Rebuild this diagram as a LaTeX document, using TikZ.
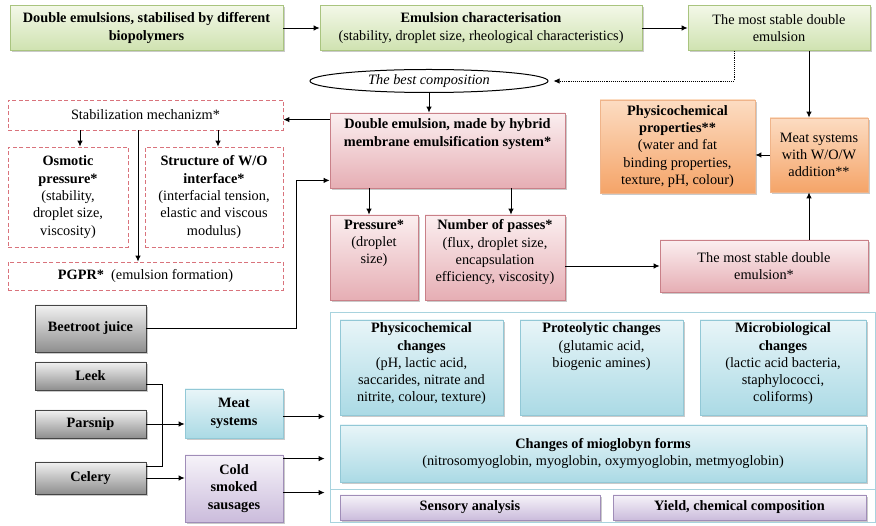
\documentclass[tikz,border=0pt]{standalone}
\usepackage{fontspec}
\setmainfont{Liberation Serif}
\usetikzlibrary{arrows.meta,shapes.geometric,shadows}
\definecolor{grT}{HTML}{F3F8E8}\definecolor{grB}{HTML}{CFE2B0}\definecolor{grD}{HTML}{A9C47F}
\definecolor{pkT}{HTML}{FBEFF0}\definecolor{pkB}{HTML}{E6AEB4}\definecolor{pkD}{HTML}{C98088}
\definecolor{orT}{HTML}{FCDCC2}\definecolor{orB}{HTML}{F5A468}\definecolor{orD}{HTML}{EFB48A}
\definecolor{gyT}{HTML}{F2F2F2}\definecolor{gyB}{HTML}{8E8E8E}\definecolor{gyD}{HTML}{454545}
\definecolor{cyT}{HTML}{E8F5F8}\definecolor{cyB}{HTML}{ABDAE5}\definecolor{cyD}{HTML}{92C8D6}
\definecolor{puT}{HTML}{F6F3F9}\definecolor{puB}{HTML}{CBBCDC}\definecolor{puD}{HTML}{A08DB8}
\definecolor{rdD}{HTML}{D9737C}
\tikzset{
  every node/.style={font=\fontsize{14.3}{17.3}\selectfont, align=center, inner sep=0pt},
  shd/.style={drop shadow={shadow xshift=1.6pt, shadow yshift=-1.8pt, opacity=0.35, fill=black!60}},
  gbox/.style={shd, draw=grD, line width=0.8pt, top color=grT, bottom color=grB},
  pbox/.style={shd, draw=pkD, line width=0.8pt, top color=pkT, bottom color=pkB},
  obox/.style={shd, draw=orD, line width=0.8pt, top color=orT, bottom color=orB},
  gybox/.style={shd, draw=gyD, line width=0.8pt, top color=gyT, bottom color=gyB},
  cbox/.style={shd, draw=cyD, line width=0.8pt, top color=cyT, bottom color=cyB},
  ubox/.style={shd, draw=puD, line width=0.8pt, top color=puT, bottom color=puB},
  rbox/.style={draw=rdD, line width=0.8pt, dash pattern=on 4pt off 2.5pt, fill=white},
  arr/.style={line width=0.9pt, -{Latex[length=6pt,width=5.5pt]}},
  ln/.style={line width=0.9pt},
  txt/.style={anchor=north}
}
\begin{document}
\begin{tikzpicture}[x=1pt,y=-1pt]
\useasboundingbox (0,0) rectangle (876,526);
% top row
\node[gbox, minimum width=273pt, minimum height=45pt] (A) at (146.5,28) {\textbf{Double emulsions, stabilised by different}\\\textbf{biopolymers}};
\node[gbox, minimum width=322pt, minimum height=45pt] (B) at (481,28) {\textbf{Emulsion characterisation}\\(stability, droplet size, rheological characteristics)};
\node[gbox, minimum width=182pt, minimum height=45pt] (C) at (779,28) {The most stable double\\emulsion};
\node[ellipse, draw, line width=1pt, fill=white, minimum width=238pt, minimum height=23pt] (ell) at (429,81) {\textit{The best composition}};
% left dashed group
\node[rbox, minimum width=275pt, minimum height=30pt] (Stab) at (145.5,115) {Stabilization mechanizm*};
\node[rbox, minimum width=120pt, minimum height=100pt] (Osm) at (68,197) {\textbf{Osmotic}\\\textbf{pressure*}\\(stability,\\droplet size,\\viscosity)};
\node[rbox, minimum width=138pt, minimum height=100pt] (Str) at (214,197) {\textbf{Structure of W/O}\\\textbf{interface*}\\(interfacial tension,\\elastic and viscous\\modulus)};
\node[rbox, minimum width=275pt, minimum height=28pt] (PG) at (145.5,276) {\textbf{PGPR*}\ \ (emulsion formation)};
% pink group
\node[pbox, minimum width=235pt, minimum height=75pt] (D) at (447.5,150.5) {};
\node[txt] (Dt) at ([yshift=-6pt]D.north) {\textbf{Double emulsion, made by hybrid}\\\textbf{membrane emulsification system*}};
\node[pbox, minimum width=88pt, minimum height=85pt] (P) at (374,257.5) {};
\node[txt] (Pt) at ([yshift=-5pt]P.north) {\textbf{Pressure*}\\(droplet\\size)};
\node[pbox, minimum width=140pt, minimum height=85pt] (N) at (495,257.5) {};
\node[txt] (Nt) at ([yshift=-5pt]N.north) {\textbf{Number of passes*}\\(flux, droplet size,\\encapsulation\\efficiency, viscosity)};
\node[pbox, minimum width=208pt, minimum height=52pt] (E) at (764,266) {The most stable double\\emulsion*};
% orange
\node[obox, minimum width=98pt, minimum height=74pt] (W) at (819,155) {Meat systems\\with W/O/W\\addition**};
\node[obox, minimum width=155pt, minimum height=93pt] (Q) at (677.5,146.5) {\textbf{Physicochemical}\\\textbf{properties**}\\(water and fat\\binding properties,\\texture, pH, colour)};
% grey
\node[gybox, minimum width=111pt, minimum height=47pt] (Bj) at (90.5,328.5) {\textbf{Beetroot juice}};
\node[gybox, minimum width=111pt, minimum height=28pt] (Lk) at (90.5,376) {\textbf{Leek}};
\node[gybox, minimum width=111pt, minimum height=28pt] (Ps) at (90.5,424) {\textbf{Parsnip}};
\node[gybox, minimum width=111pt, minimum height=32pt] (Ce) at (90.5,478) {\textbf{Celery}};
\node[cbox, minimum width=98pt, minimum height=49pt] (Ms) at (234,413.5) {\textbf{Meat}\\\textbf{systems}};
\node[ubox, minimum width=98pt, minimum height=67pt] (Cs) at (234,488.5) {\textbf{Cold}\\\textbf{smoked}\\\textbf{sausages}};
% container
\node[draw=cyD!80, line width=0.8pt, minimum width=545pt, minimum height=210pt] (K) at (602.5,417) {};
\coordinate (dvL) at (330,489);
\draw[draw=cyD!80, line width=0.8pt] (dvL) -- (dvL -| K.east);
\node[cbox, minimum width=163pt, minimum height=95pt] (H1) at (421.5,367.5) {};
\node[txt] (H1t) at ([yshift=-3pt]H1.north) {\textbf{Physicochemical}\\\textbf{changes}\\(pH, lactic acid,\\saccarides, nitrate and\\nitrite, colour, texture)};
\node[cbox, minimum width=163pt, minimum height=95pt] (H2) at (601.5,367.5) {};
\node[txt] (H2t) at ([yshift=-3pt]H2.north) {\textbf{Proteolytic changes}\\(glutamic acid,\\biogenic amines)};
\node[cbox, minimum width=166pt, minimum height=95pt] (H3) at (783,367.5) {};
\node[txt] (H3t) at ([yshift=-3pt]H3.north) {\textbf{Microbiological}\\\textbf{changes}\\(lactic acid bacteria,\\staphylococci,\\coliforms)};
\node[cbox, minimum width=526pt, minimum height=57pt] (Mi) at (603,453.5) {\textbf{Changes of mioglobyn forms}\\(nitrosomyoglobin, myoglobin, oxymyoglobin, metmyoglobin)};
\node[ubox, minimum width=260pt, minimum height=25pt] (Se) at (470,507.5) {\textbf{Sensory analysis}};
\node[ubox, minimum width=253pt, minimum height=25pt] (Yi) at (739.5,507.5) {\textbf{Yield, chemical composition}};
% connectors
\draw[arr] (A.east) -- (B.west);
\draw[arr] (B.east) -- (B.east -| C.west);
\coordinate (cd) at ([xshift=-45pt]C.south);
\draw[arr, densely dotted, shorten >=5pt] (cd) |- (ell.east);
\coordinate (wt) at ([xshift=-10pt]W.north);
\coordinate (wb) at ([xshift=-10pt]W.south);
\draw[arr] (C.south -| wt) -- (wt);
\draw[arr] (E.north -| wb) -- (wb);
\draw[arr] (W.west) -- (W.west -| Q.east);
\draw[arr] (ell.south) -- (ell.south |- D.north);
\coordinate (dl) at ([yshift=-7pt]D.north west);
\draw[arr] (dl) -- (dl -| Stab.east);
\coordinate (so) at ([xshift=12pt]Osm.north);
\coordinate (ss) at ([xshift=4pt]Str.north);
\coordinate (sp) at ([xshift=-7.5pt]PG.north);
\draw[arr] (Stab.south -| so) -- (so);
\draw[arr] (Stab.south -| ss) -- (ss);
\draw[arr] (Stab.south -| sp) -- (sp);
\coordinate (bx) at (296,0);
\coordinate (di) at ([yshift=8pt]D.south west);
\draw[arr] (Bj.east) -- (Bj.east -| bx) |- (di);
\coordinate (dp) at ([xshift=-5pt]P.north);
\coordinate (dn) at ([xshift=16pt]N.north);
\draw[arr] (D.south -| dp) -- (dp);
\draw[arr] (D.south -| dn) -- (dn);
\draw[arr] (E.west -| N.east) -- (E.west);
\coordinate (lk) at ([yshift=6pt]Lk.south east);
\coordinate (ct) at ([yshift=-5pt]Ce.north east);
\coordinate (lx) at (162,0);
\draw[ln] (lk) -- (lk -| lx) |- (ct);
\draw[arr] (Ps.east) -- (Ps.east -| Ms.west);
\draw[arr] (Ce.east) -- (Ce.east -| Cs.west);
\draw[arr, shorten >=5pt] ([yshift=-3pt]Ms.east) -- ([yshift=-3pt]Ms.east -| K.west);
\coordinate (c1) at ([yshift=-4pt]Cs.north east);
\coordinate (c2) at ([yshift=-38pt]Cs.north east);
\draw[arr, shorten >=5pt] (c1) -- (c1 -| K.west);
\draw[arr, shorten >=5pt] (c2) -- (c2 -| K.west);
\end{tikzpicture}
\end{document}
